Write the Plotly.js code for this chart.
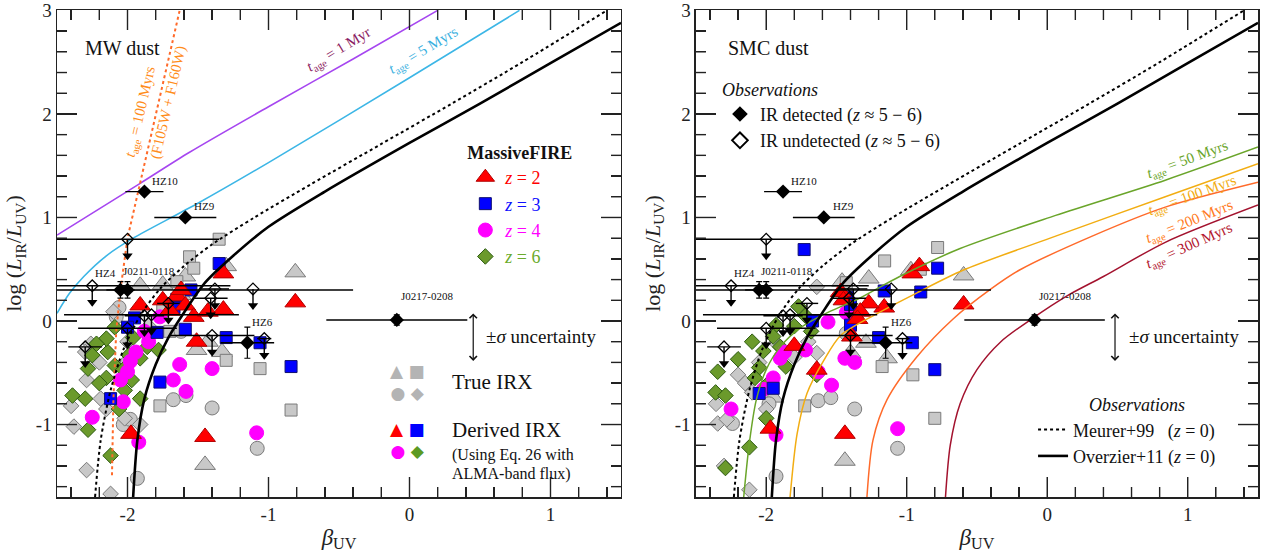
<!DOCTYPE html>
<html><head><meta charset="utf-8">
<script src="https://cdn.plot.ly/plotly-3.0.1.min.js"></script>
<style>html,body{margin:0;padding:0;background:#fff}#chart{width:1270px;height:558px}</style>
</head><body><div id="chart"></div>
<script>
const FONT = 'Liberation Serif, Times New Roman, serif';

// ---------- tick labels ----------
const betaTickVals = [-2, -1, 0, 1];
const betaTickText = ['-2', '-1', '0', '1'];
const irxTickVals = [-1, 0, 1, 2, 3];
const irxTickText = ['-1', '0', '1', '2', '3'];

// ---------- local reference relations ----------
const meurerBeta = [-2.23, -2.19, -2.12, -2.03, -1.91, -1.77, -1.60, -1.40, -1.10, -0.70, -0.20, 0.30, 0.80, 1.40];
const meurerIRX  = [-1.70, -1.15, -0.67, -0.28, 0.05, 0.31, 0.53, 0.74, 1.00, 1.32, 1.71, 2.10, 2.50, 3.00];
const overzierBeta = [-1.96, -1.93, -1.88, -1.80, -1.71, -1.60, -1.45, -1.25, -1.00, -0.60, 0.0, 0.5, 1.0, 1.5];
const overzierIRX  = [-1.70, -1.15, -0.75, -0.42, -0.16, 0.08, 0.37, 0.63, 0.91, 1.25, 1.72, 2.10, 2.49, 2.88];

// ---------- MW dust model tracks ----------
const mw1MyrBeta = [-2.5, -1.91, -1.56, -1.0, -0.4, 0.2];
const mw1MyrIRX  = [0.83, 1.33, 1.63, 2.07, 2.53, 3.0];
const mw5MyrBeta = [-2.5, -2.41, -2.31, -2.15, -1.96, -1.51, -1.0, 0.0, 0.78];
const mw5MyrIRX  = [0.075, 0.27, 0.43, 0.63, 0.80, 1.13, 1.53, 2.35, 3.0];
const mw100MyrBeta = [-2.11, -2.10, -2.08, -2.05, -2.0, -1.91, -1.86, -1.63];
const mw100MyrIRX  = [-1.49, -0.76, -0.10, 0.30, 0.80, 1.33, 1.65, 3.0];

// ---------- SMC dust model tracks ----------
const smc50Beta = [-2.16, -2.12, -2.07, -2.0, -1.9, -1.75, -1.55, -1.35, -1.05, -0.62, 0.06, 0.84, 1.5];
const smc50IRX  = [-1.70, -1.18, -0.76, -0.47, -0.25, -0.06, 0.09, 0.21, 0.43, 0.70, 1.02, 1.36, 1.68];
const smc100Beta = [-1.83, -1.78, -1.71, -1.59, -1.47, -1.24, -0.93, -0.6, 0.06, 0.84, 1.5];
const smc100IRX  = [-1.70, -1.09, -0.70, -0.38, -0.14, 0.05, 0.27, 0.49, 0.82, 1.20, 1.52];
const smc200Beta = [-1.283, -1.24, -1.14, -0.93, -0.67, -0.4, -0.2, 0.32, 0.84, 1.5];
const smc200IRX  = [-1.70, -1.15, -0.76, -0.35, 0.02, 0.31, 0.49, 0.82, 1.10, 1.34];
const smc300Beta = [-0.724, -0.69, -0.62, -0.50, -0.33, -0.10, 0.15, 0.40, 0.84, 1.5];
const smc300IRX  = [-1.70, -1.20, -0.80, -0.47, -0.20, 0.03, 0.25, 0.43, 0.76, 1.12];

// ---------- Observations (z ~ 5-6) ----------
const detName    = ['HZ10', 'HZ9', 'HZ4', 'J0211-0118', 'HZ6', 'J0217-0208'];
const detBeta    = [-1.88, -1.59, -2.05, -2.00, -1.15, -0.09];
const detIRX     = [1.25, 1.00, 0.30, 0.30, -0.21, 0.01];
const detBetaErr = [0.135, 0.22, 0.10, 1.60, 0.19, 0.50];
const detIRXErr  = [0, 0, 0.08, 0.08, 0.15, 0.05];

const undBeta    = [-2.00, -2.25, -1.38, -1.41, -1.11, -1.71, -1.88, -1.83, -2.00, -1.40, -1.03, -2.30];
const undIRX     = [0.79, 0.34, 0.31, 0.22, 0.31, 0.17, 0.05, 0.06, -0.07, -0.14, -0.17, -0.25];
const undBetaErr = [0.65, 0.98, 0.10, 0.12, 0.0, 0.08, 0.14, 0.62, 0.35, 0.30, 0.05, 0.12];

// ---------- MassiveFIRE, MW dust (left) ----------
const mwZ2Beta = [-1.32, -0.81, -1.91, -1.75, -1.65, -1.59, -1.53, -1.43, -1.32, -1.51, -1.975, -1.45, -1.62, -1.70];
const mwZ2IRX  = [0.46, 0.18, 0.15, 0.20, 0.24, 0.15, 0.04, 0.09, 0.11, -0.20, -1.09, -1.12, 0.30, 0.10];
const mwZ3Beta = [-1.35, -1.55, -1.65, -1.67, -1.95, -1.59, -1.79, -1.30, -1.06, -0.84, -1.77, -2.12, -2.00];
const mwZ3IRX  = [0.555, 0.30, 0.21, 0.13, 0.03, -0.08, -0.11, -0.16, -0.21, -0.44, -0.59, -0.75, -0.06];
const mwZ4Beta = [-1.63, -1.40, -1.675, -1.585, -1.084, -1.92, -2.25, -2.03, -2.00, -1.98, -2.05, -1.77, -1.85, -1.94, -1.88];
const mwZ4IRX  = [-0.42, -0.46, -0.57, -0.68, -1.08, -1.17, -0.93, -0.78, -0.49, -0.39, -0.57, 0.04, -0.20, -0.30, -0.10];
const mwZ6Beta = [-2.28, -2.39, -2.30, -2.28, -2.12, -2.15, -2.14, -2.09, -2.02, -1.97, -1.91, -1.91, -1.86, -1.78, -2.09, -2.15, -2.22, -1.96, -2.03, -2.20, -2.06, -2.25, -1.99];
const mwZ6IRX  = [-0.46, -0.72, -0.75, -1.05, -1.30, -0.55, -0.30, -0.43, -0.67, -0.57, -0.75, -0.36, -0.25, -0.28, -0.06, -0.17, -0.22, -0.16, -0.47, -0.60, -0.85, -0.33, -0.33];
// true IRX (grey)
const mwTriBeta = [-0.81, -1.91, -1.75, -1.59, -1.30, -1.51, -1.43, -1.33, -1.45, -1.62];
const mwTriIRX  = [0.47, 0.34, 0.35, 0.43, 0.53, -0.28, -0.20, -0.30, -1.39, 0.25];
const mwSqBeta  = [-1.35, -1.56, -1.53, -1.65, -1.30, -1.06, -0.84, -1.77, -1.75, -1.70];
const mwSqIRX   = [0.79, 0.62, 0.51, 0.38, -0.38, -0.46, -0.86, -0.82, 0.10, -0.10];
const mwCircBeta = [-1.675, -1.585, -1.40, -1.08, -1.93, -2.03, -2.08, -2.06, -1.62, -1.98, -2.00];
const mwCircIRX  = [-0.76, -0.72, -0.84, -1.23, -1.52, -1.00, 0.04, 0.13, -0.10, -0.95, -0.40];
const mwDiaBeta = [-2.29, -2.12, -2.38, -2.40, -2.29, -2.26, -2.02, -1.91, -2.19, -2.10, -2.20, -2.15, -2.00, -1.85, -2.30];
const mwDiaIRX  = [-1.44, -1.67, -1.02, -0.82, -0.57, -0.22, -0.94, -1.00, -0.75, 0.09, -0.40, -0.85, -0.20, -0.05, -0.30];

// ---------- MassiveFIRE, SMC dust (right) ----------
const smcZ2Beta = [-0.96, -0.91, -0.595, -1.16, -1.27, -1.33, -1.47, -1.45, -1.35, -1.39, -1.80, -1.64, -1.97, -1.44];
const smcZ2IRX  = [0.46, 0.53, 0.16, 0.13, 0.17, 0.09, 0.28, 0.20, 0.02, -0.15, -0.24, -0.47, -1.04, -1.09];
const smcZ3Beta = [-1.73, -0.78, -1.16, -0.90, -1.42, -1.40, -1.40, -1.20, -0.96, -0.80, -1.67, -2.05, -1.95];
const smcZ3IRX  = [0.69, 0.51, 0.29, 0.28, 0.23, 0.16, -0.04, -0.16, -0.21, -0.47, 0.00, -0.70, -0.65];
const smcZ4Beta = [-1.56, -1.43, -1.44, -1.37, -1.535, -1.63, -1.93, -2.25, -1.065, -1.87, -1.90, -2.02, -1.95, -1.72];
const smcZ4IRX  = [-0.01, 0.08, -0.36, -0.40, -0.62, -0.49, -1.10, -0.85, -1.04, -0.30, -0.36, -0.66, -0.55, -0.28];
const smcZ6Beta = [-2.345, -2.20, -2.36, -2.29, -2.12, -2.29, -2.00, -1.99, -2.02, -1.93, -1.77, -1.72, -1.64, -1.86, -2.05, -2.10, -1.95, -1.90, -2.08, -1.80, -1.68];
const smcZ6IRX  = [-0.49, -0.37, -0.69, -0.72, -1.22, -1.42, -0.94, -0.61, -0.29, -0.04, 0.14, 0.05, -0.52, -0.44, -0.45, -0.20, -0.15, -0.25, -0.55, -0.05, -0.10];
const smcTriBeta = [-0.595, -1.27, -0.97, -1.46, -1.29, -1.14, -1.44, -1.40, -1.95];
const smcTriIRX  = [0.44, 0.41, 0.49, 0.38, -0.21, -0.36, -1.35, -0.31, -0.74];
const smcSqBeta  = [-0.78, -1.157, -0.903, -1.43, -1.175, -0.956, -0.80, -1.726];
const smcSqIRX   = [0.71, 0.58, 0.50, 0.37, -0.44, -0.52, -0.94, -0.82];
const smcCircBeta = [-1.43, -1.63, -1.54, -1.37, -1.065, -1.93, -2.24, -1.98];
const smcCircIRX  = [-0.12, -0.77, -0.74, -0.85, -1.23, -1.50, -0.99, -0.80];
const smcDiaBeta = [-1.64, -2.357, -2.345, -2.28, -2.20, -2.12, -2.10, -1.93, -1.64, -1.70, -2.00, -2.05, -1.80, -2.15, -2.30];
const smcDiaIRX  = [0.33, -0.80, -0.99, -0.95, -0.52, -1.63, -0.69, -0.21, -0.31, -0.20, -0.85, -0.40, -0.35, -0.60, -1.40];

// ---------- styles ----------
const ARROW = 0.19;
const GREY = {fill: '#c8c8c8', edge: '#7a7a7a'};
const SIM = {
  z2: {sym: 'triangle-up', size: 18, fill: '#ff0000', edge: '#b00000'},
  z3: {sym: 'square', size: 12, fill: '#0000ff', edge: '#101070'},
  z4: {sym: 'circle', size: 14, fill: '#ff00ff', edge: '#ff00ff'},
  z6: {sym: 'diamond', size: 12, fill: '#6b9a2c', edge: '#2c5a10'}
};

function markers(x, y, sym, size, fill, edge, ax, extra) {
  return Object.assign({
    type: 'scatter', mode: 'markers', x: x, y: y,
    xaxis: ax[0], yaxis: ax[1], showlegend: false, hoverinfo: 'skip',
    marker: {symbol: sym, size: size, color: fill, line: {color: edge, width: 1}}
  }, extra || {});
}
function curve(x, y, color, width, dash, ax, extra) {
  return Object.assign({
    type: 'scatter', mode: 'lines', x: x, y: y,
    xaxis: ax[0], yaxis: ax[1], showlegend: false, hoverinfo: 'skip',
    line: {color: color, width: width, dash: dash, shape: 'spline', smoothing: 0.8}
  }, extra || {});
}
function obsTraces(ax, legendOn) {
  const t = [];
  t.push({
    type: 'scatter', mode: 'markers', x: undBeta, y: undIRX, xaxis: ax[0], yaxis: ax[1],
    name: 'IR undetected (<i>z</i> ≈ 5 − 6)', legend: 'legend2', legendgroup: 'und', legendrank: 2, showlegend: legendOn, hoverinfo: 'skip',
    marker: {symbol: 'diamond-open', size: 9, color: '#000', line: {width: 1.3}},
    error_x: {type: 'data', array: undBetaErr, width: 0, thickness: 1.4, color: '#000'},
    error_y: {type: 'data', symmetric: false, array: undIRX.map(() => 0), arrayminus: undIRX.map(() => ARROW), width: 0, thickness: 1.4, color: '#000'}
  });
  t.push({
    type: 'scatter', mode: 'markers', x: undBeta, y: undIRX.map(v => v - ARROW + 0.03),
    xaxis: ax[0], yaxis: ax[1], showlegend: false, hoverinfo: 'skip',
    marker: {symbol: 'triangle-down', size: 9, color: '#000', line: {width: 0}}
  });
  t.push({
    type: 'scatter', mode: 'markers', x: detBeta, y: detIRX, xaxis: ax[0], yaxis: ax[1],
    name: 'IR detected (<i>z</i> ≈ 5 − 6)', legend: 'legend2', legendgroup: 'det', legendrank: 1, showlegend: legendOn, hoverinfo: 'skip',
    marker: {symbol: 'diamond', size: 11, color: '#000', line: {width: 0}},
    error_x: {type: 'data', array: detBetaErr, width: 0, thickness: 1.4, color: '#000'},
    error_y: {type: 'data', array: detIRXErr, width: 3, thickness: 1.2, color: '#000'}
  });
  return t;
}
function simTraces(ax, d, legendOn) {
  const t = [];
  t.push(markers(d.triB, d.triY, 'triangle-up', SIM.z2.size, GREY.fill, GREY.edge, ax));
  t.push(markers(d.sqB, d.sqY, 'square', SIM.z3.size, GREY.fill, GREY.edge, ax));
  t.push(markers(d.cB, d.cY, 'circle', SIM.z4.size, GREY.fill, GREY.edge, ax));
  t.push(markers(d.dB, d.dY, 'diamond', SIM.z6.size, GREY.fill, GREY.edge, ax));
  const names = {z2: '<span style="color:#ff0000"><i>z</i> = 2</span>', z3: '<span style="color:#1010ff"><i>z</i> = 3</span>',
                 z4: '<span style="color:#ff00ff"><i>z</i> = 4</span>', z6: '<span style="color:#6bab2c"><i>z</i> = 6</span>'};
  [['z6', d.z6], ['z4', d.z4], ['z3', d.z3], ['z2', d.z2]].forEach(([k, v]) => {
    const s = SIM[k];
    t.push(markers(v[0], v[1], s.sym, s.size, s.fill, s.edge, ax,
      {name: names[k], showlegend: legendOn, legend: 'legend', legendgroup: k,
       legendrank: {z2: 1, z3: 2, z4: 3, z6: 4}[k]}));
  });
  return t;
}

const L = ['x', 'y'], R = ['x2', 'y2'];
const traces = [];
traces.push(...simTraces(L, {triB: mwTriBeta, triY: mwTriIRX, sqB: mwSqBeta, sqY: mwSqIRX, cB: mwCircBeta, cY: mwCircIRX, dB: mwDiaBeta, dY: mwDiaIRX,
  z2: [mwZ2Beta, mwZ2IRX], z3: [mwZ3Beta, mwZ3IRX], z4: [mwZ4Beta, mwZ4IRX], z6: [mwZ6Beta, mwZ6IRX]}, true));
traces.push(...simTraces(R, {triB: smcTriBeta, triY: smcTriIRX, sqB: smcSqBeta, sqY: smcSqIRX, cB: smcCircBeta, cY: smcCircIRX, dB: smcDiaBeta, dY: smcDiaIRX,
  z2: [smcZ2Beta, smcZ2IRX], z3: [smcZ3Beta, smcZ3IRX], z4: [smcZ4Beta, smcZ4IRX], z6: [smcZ6Beta, smcZ6IRX]}, false));

// curves
traces.push(curve(mw1MyrBeta, mw1MyrIRX, '#a646f0', 1.6, 'solid', L));
traces.push(curve(mw5MyrBeta, mw5MyrIRX, '#3cb6e6', 1.6, 'solid', L));
traces.push(curve(mw100MyrBeta, mw100MyrIRX, '#ff6a2a', 2, 'dot', L, {line: {color: '#ff6a2a', width: 2, dash: 'dot'}}));
traces.push(curve(meurerBeta, meurerIRX, '#000', 2, 'dot', L));
traces.push(curve(overzierBeta, overzierIRX, '#000', 2.6, 'solid', L));

traces.push(curve(smc50Beta, smc50IRX, '#6aa52a', 1.5, 'solid', R));
traces.push(curve(smc100Beta, smc100IRX, '#f2ad12', 1.5, 'solid', R));
traces.push(curve(smc200Beta, smc200IRX, '#ff6a2a', 1.5, 'solid', R));
traces.push(curve(smc300Beta, smc300IRX, '#a3122e', 1.5, 'solid', R));
traces.push(curve(meurerBeta, meurerIRX, '#000', 2, 'dot', R, {name: 'Meurer+99\u00a0\u00a0\u00a0(<i>z</i> = 0)', showlegend: true, legend: 'legend3'}));
traces.push(curve(overzierBeta, overzierIRX, '#000', 2.6, 'solid', R, {name: 'Overzier+11 (<i>z</i> = 0)', showlegend: true, legend: 'legend3'}));

traces.push(...obsTraces(L, false));
traces.push(...obsTraces(R, true));

// ---------- axes ----------
const X_RANGE = [-2.5, 1.5], Y_RANGE = [-1.7, 3.004];
const DOM_L = [0, 0.4696], DOM_R = [0.532, 1];
const tickStyle = {ticks: 'inside', ticklen: 20, tickwidth: 1.3, tickcolor: '#222', showline: true, linecolor: '#222', linewidth: 1.5,
  showgrid: false, zeroline: false};
const minorStyle = {dtick: 0.2, tick0: 0, ticks: 'inside', ticklen: 10, tickwidth: 1.3, tickcolor: '#222', showgrid: false};
function xax(domain, anchor) {
  return Object.assign({domain: domain, anchor: anchor, range: X_RANGE,
    tickmode: 'array', tickvals: betaTickVals, ticktext: betaTickText, mirror: 'allticks', minor: Object.assign({}, minorStyle),
    tickfont: {family: FONT, size: 19, color: '#222'},
    title: {text: '<i>β</i><sub>UV</sub>', font: {family: FONT, size: 23, color: '#222'}, standoff: 4}}, tickStyle);
}
function yax(anchor) {
  return Object.assign({domain: [0, 1], anchor: anchor, range: Y_RANGE,
    tickmode: 'array', tickvals: irxTickVals, ticktext: irxTickText, mirror: 'allticks', minor: Object.assign({}, minorStyle),
    tickfont: {family: FONT, size: 19, color: '#222'},
    title: {text: 'log (<i>L</i><sub>IR</sub>/<i>L</i><sub>UV</sub>)', font: {family: FONT, size: 22, color: '#222'}, standoff: 8}}, tickStyle);
}

// tick marks on all four edges of each panel, as a line trace in axis units
function tickTrace(ax, pxPerBeta) {
  const pxPerIRX = 487 / (Y_RANGE[1] - Y_RANGE[0]);
  const xs = [], ys = [];
  for (let k = Math.ceil(X_RANGE[0] * 5); k <= Math.floor(X_RANGE[1] * 5); k++) {
    const v = k / 5;
    if (v <= X_RANGE[0] + 1e-9 || v >= X_RANGE[1] - 1e-9) continue;
    const len = (k % 5 === 0 ? 20 : 10) / pxPerIRX;
    xs.push(v, v, null, v, v, null);
    ys.push(Y_RANGE[0], Y_RANGE[0] + len, null, Y_RANGE[1], Y_RANGE[1] - len, null);
  }
  for (let k = Math.ceil(Y_RANGE[0] * 5); k <= Math.floor(Y_RANGE[1] * 5); k++) {
    const v = k / 5;
    if (v <= Y_RANGE[0] + 1e-9 || v >= 2.999) continue;
    const len = (k % 5 === 0 ? 20 : 10) / pxPerBeta;
    xs.push(X_RANGE[0], X_RANGE[0] + len, null, X_RANGE[1], X_RANGE[1] - len, null);
    ys.push(v, v, null, v, v, null);
  }
  return {type: 'scatter', mode: 'lines', x: xs, y: ys, xaxis: ax[0], yaxis: ax[1], showlegend: false, hoverinfo: 'skip',
    connectgaps: false, line: {color: '#222', width: 1.4}};
}
traces.push(tickTrace(L, 564 / 4));
traces.push(tickTrace(R, 562 / 4));

// ---------- annotations (paper coordinates derived from panel fractions) ----------
const ann = [];
function pX(panel, f) { const d = panel === 'L' ? DOM_L : DOM_R; return d[0] + f * (d[1] - d[0]); }
function txt(panel, fx, fy, text, size, color, extra) {
  ann.push(Object.assign({xref: 'paper', yref: 'paper', x: pX(panel, fx), y: fy, text: text, showarrow: false,
    font: {family: FONT, size: size, color: color || '#111'}, xanchor: 'left', yanchor: 'middle'}, extra || {}));
}
txt('L', 0.046, 0.922, 'MW dust', 20);
txt('R', 0.053, 0.922, 'SMC dust', 20);
// track labels
txt('L', 0.500, 0.918, '<i>t</i><sub>age</sub> = 1 Myr', 15, '#8b1c62', {xanchor: 'center', textangle: -31});
txt('L', 0.650, 0.915, '<i>t</i><sub>age</sub> = 5 Myrs', 15, '#3ab0e0', {xanchor: 'center', textangle: -31});
txt('L', 0.149, 0.790, '<i>t</i><sub>age</sub> = 100 Myrs', 15, '#ff8c1a', {xanchor: 'center', textangle: -77});
txt('L', 0.197, 0.811, '(F105W + F160W)', 15, '#ff8c1a', {xanchor: 'center', textangle: -77});
txt('R', 0.875, 0.692, '<i>t</i><sub>age</sub> = 50 Myrs', 15, '#6aa52a', {xanchor: 'center', textangle: -20});
txt('R', 0.883, 0.618, '<i>t</i><sub>age</sub> = 100 Myrs', 15, '#f2ad12', {xanchor: 'center', textangle: -20});
txt('R', 0.879, 0.565, '<i>t</i><sub>age</sub> = 200 Myrs', 15, '#ff7a22', {xanchor: 'center', textangle: -22});
txt('R', 0.879, 0.515, '<i>t</i><sub>age</sub> = 300 Myrs', 15, '#b3162e', {xanchor: 'center', textangle: -24});
// uncertainty
[['L', 0.738, 0.757], ['R', 0.7456, 0.767]].forEach(([p, xa, xt]) => {
  ann.push({xref: 'paper', yref: 'paper', x: pX(p, xa), y: 0.377, ax: 0, ay: 49, text: '', showarrow: true, arrowside: 'end+start',
    arrowhead: 4, arrowsize: 1.2, arrowwidth: 1.2, arrowcolor: '#111', standoff: 0, startstandoff: 0});
  txt(p, xt, 0.33, '±<i>σ</i> uncertainty', 19);
});
// true/derived IRX key
txt('L', 0.6206, 0.236, '▲ ■<br>● ◆', 17, '#aaaaaa', {xanchor: 'center', font: {family: 'DejaVu Sans', size: 17, color: '#b4b4b4'}});
txt('L', 0.697, 0.236, 'True IRX', 21);
txt('L', 0.6206, 0.118, '<span style="color:#ff0000">▲</span> <span style="color:#0000ff">■</span><br><span style="color:#ff00ff">●</span> <span style="color:#5c9a22">◆</span>', 17, '#000',
  {xanchor: 'center', font: {family: 'DejaVu Sans', size: 17, color: '#000'}});
txt('L', 0.697, 0.138, 'Derived IRX', 21);
txt('L', 0.697, 0.086, '(Using Eq. 26 with', 16);
txt('L', 0.697, 0.047, 'ALMA-band flux)', 16);
// observation names
const nameShift = {'HZ10': [6, 11, 'left'], 'HZ9': [7, 11, 'left'], 'HZ4': [-2, 17, 'right'], 'J0211-0118': [-7, 19, 'left'],
                   'HZ6': [3, 21, 'left'], 'J0217-0208': [2, 24, 'left']};
[['x', 'y'], ['x2', 'y2']].forEach(([xr, yr]) => {
  detName.forEach((n, i) => {
    const s = nameShift[n];
    ann.push({xref: xr, yref: yr, x: detBeta[i], y: detIRX[i], text: n, showarrow: false, xshift: s[0], yshift: s[1],
      xanchor: s[2], yanchor: 'middle', font: {family: FONT, size: 11, color: '#111'}});
  });
});

const legendBase = {bgcolor: 'rgba(0,0,0,0)', borderwidth: 0, xanchor: 'left', yanchor: 'top', traceorder: 'normal',
  font: {family: FONT, size: 18, color: '#111'}};
const layout = {
  width: 1270, height: 558, margin: {l: 57, r: 12, t: 10, b: 61}, paper_bgcolor: '#fff', plot_bgcolor: '#fff',
  xaxis: xax(DOM_L, 'y'), yaxis: yax('x'),
  xaxis2: xax(DOM_R, 'y2'), yaxis2: yax('x2'),
  showlegend: true,
  legend: Object.assign({}, legendBase, {x: 0.340, y: 0.742, tracegroupgap: 8, itemsizing: 'trace',
    title: {text: '<b>MassiveFIRE</b>', font: {family: FONT, size: 18, color: '#111'}}}),
  legend2: Object.assign({}, legendBase, {x: 0.552, y: 0.872, itemsizing: 'constant', tracegroupgap: 8,
    title: {text: '<i>Observations</i>', font: {family: FONT, size: 18, color: '#111'}}}),
  legend3: Object.assign({}, legendBase, {x: 0.8127, y: 0.224,
    title: {text: '\u00a0\u00a0\u00a0\u00a0\u00a0\u00a0\u00a0\u00a0\u00a0\u00a0\u00a0\u00a0<i>Observations</i>', font: {family: FONT, size: 18, color: '#111'}}}),
  annotations: ann
};

Plotly.newPlot('chart', traces, layout, {staticPlot: true, displayModeBar: false}).then(gd => {
  // re-run the axis drawing once the first render has settled
  return Plotly.relayout(gd, {'xaxis.tickwidth': 1.3, 'xaxis2.tickwidth': 1.3, 'yaxis.tickwidth': 1.3, 'yaxis2.tickwidth': 1.3});
}).catch(() => {});
</script></body></html>
